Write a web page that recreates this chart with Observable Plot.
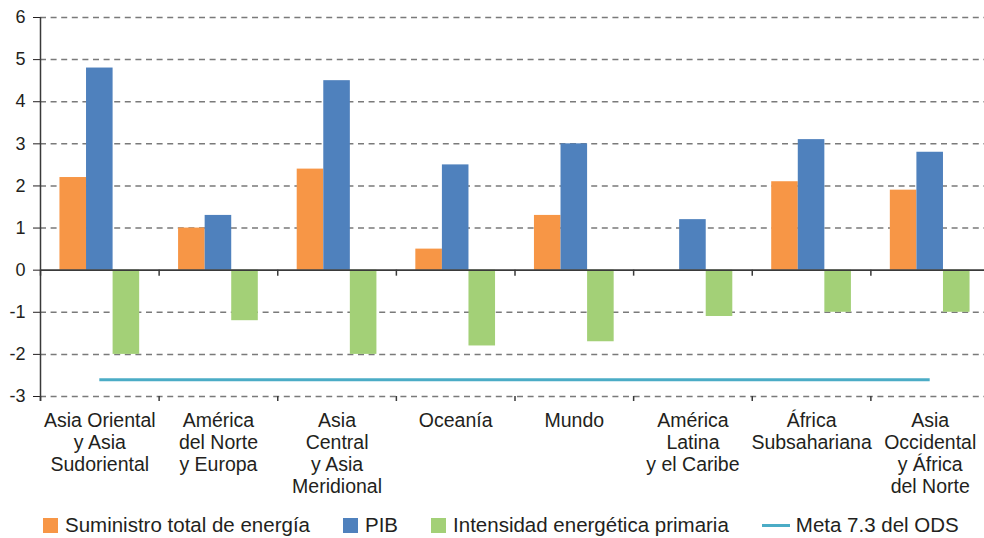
<!DOCTYPE html>
<html>
<head>
<meta charset="utf-8">
<script src="https://cdn.jsdelivr.net/npm/d3@7"></script>
<script src="https://cdn.jsdelivr.net/npm/@observablehq/plot@0.6"></script>
<style>
  html, body { margin: 0; padding: 0; background: #fff; }
  body { width: 984px; height: 538px; overflow: hidden; font-family: "Liberation Sans", Arial, sans-serif; color: #231f20; }
  #chart svg { display: block; }
  .legend { display: flex; align-items: center; height: 26px; margin-top: 12px; padding-left: 43px; font-size: 20.5px; }
  .item { display: flex; align-items: center; margin-right: 33px; white-space: nowrap; }
  .sw { width: 15px; height: 15px; margin-right: 7px; }
  .ln { width: 28px; height: 3px; margin-right: 6px; }
</style>
</head>
<body>
<div id="chart"></div>
<div class="legend" id="legend"></div>
<script>
// ---- data ----
const groups = [
  "Asia Oriental\ny Asia\nSudoriental",
  "América\ndel Norte\ny Europa",
  "Asia\nCentral\ny Asia\nMeridional",
  "Oceanía",
  "Mundo",
  "América\nLatina\ny el Caribe",
  "África\nSubsahariana",
  "Asia\nOccidental\ny África\ndel Norte"
];
const seriesNames = ["Suministro total de energía", "PIB", "Intensidad energética primaria"];
const suministro = [2.2, 1.0, 2.4, 0.5, 1.3, null, 2.1, 1.9];
const pib        = [4.8, 1.3, 4.5, 2.5, 3.0, 1.2, 3.1, 2.8];
const intensidad = [-2.0, -1.2, -2.0, -1.8, -1.7, -1.1, -1.0, -1.0];
const metaLabel = "Meta 7.3 del ODS";
const metaValue = -2.6;
const yTicks = [-3, -2, -1, 0, 1, 2, 3, 4, 5, 6];

const colors = ["#f79646", "#4f81bd", "#a3d077"];
const metaColor = "#4bacc6";

// ---- build table ----
const seriesValues = [suministro, pib, intensidad];
const BAR = 0.224;
const PAD = (1 - 3 * BAR) / 2;
const rows = [];
groups.forEach((g, gi) => {
  seriesValues.forEach((vals, si) => {
    const v = vals[gi];
    if (v == null) return;
    rows.push({group: g, gi, series: seriesNames[si], si, value: v,
      x1: gi + PAD + si * BAR, x2: gi + PAD + (si + 1) * BAR});
  });
});
const boundaries = d3.range(groups.length + 1);
const labelRows = groups.map((g, gi) => ({label: g, x: gi + 0.5}));
const gridTicks = yTicks.filter(d => d !== 0);

const chart = Plot.plot({
  width: 984,
  height: 500,
  marginTop: 17,
  marginLeft: 40,
  marginRight: -5,
  marginBottom: 104,
  style: {fontFamily: "'Liberation Sans', Arial, sans-serif", fontSize: "18px", color: "#231f20", background: "#fff"},
  x: {domain: [0, groups.length], axis: null},
  y: {domain: [-3, 6], ticks: yTicks, tickFormat: d => String(d), tickSize: 7, tickPadding: 8, label: null},
  color: {domain: seriesNames, range: colors},
  marks: [
    Plot.ruleY(gridTicks, {stroke: "#7a7a7a", strokeWidth: 1.5, strokeDasharray: "6,4.6"}),
    Plot.rect(rows, {x1: "x1", x2: "x2", y1: 0, y2: "value", fill: "series"}),
    Plot.ruleY([0], {stroke: "#3a3a3a", strokeWidth: 1.6}),
    Plot.ruleX(boundaries, {x: d => d, y1: 0, y2: 0, insetBottom: -6, stroke: "#3a3a3a", strokeWidth: 1.5}),
    Plot.ruleX(boundaries, {x: d => d, y1: -3, y2: -3, insetBottom: -5, stroke: "#3a3a3a", strokeWidth: 1.5}),
    Plot.ruleX([0], {insetBottom: -5, stroke: "#3a3a3a", strokeWidth: 1.5}),
    Plot.ruleY([metaValue], {x1: 0.5, x2: groups.length - 0.5, stroke: metaColor, strokeWidth: 3}),
    Plot.text(labelRows, {x: "x", y: -3, text: "label", lineAnchor: "top", dy: 15, lineHeight: 1.12, fontSize: 19.5, fill: "#231f20"})
  ]
});
document.getElementById("chart").appendChild(chart);

// ---- legend ----
const legend = document.getElementById("legend");
seriesNames.forEach((name, i) => {
  const it = document.createElement("div");
  it.className = "item";
  it.innerHTML = `<span class="sw" style="background:${colors[i]}"></span><span>${name}</span>`;
  legend.appendChild(it);
});
const mi = document.createElement("div");
mi.className = "item";
mi.innerHTML = `<span class="ln" style="background:${metaColor}"></span><span>${metaLabel}</span>`;
legend.appendChild(mi);
</script>
</body>
</html>
